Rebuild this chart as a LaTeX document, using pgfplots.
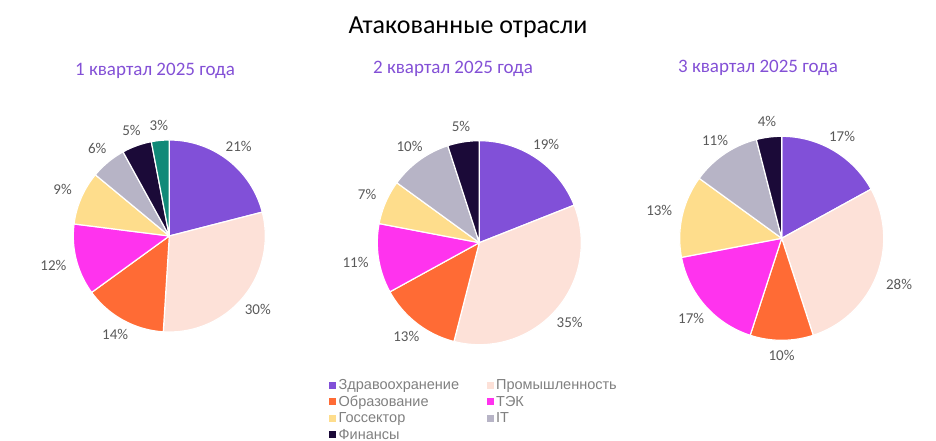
\documentclass[border=0pt]{standalone}
\usepackage{fontspec}
\setmainfont{Carlito}
\newfontfamily\legfont{Liberation Sans}
\usepackage{pgfplots}
\pgfplotsset{compat=1.18}

\definecolor{cHealth}{HTML}{8150D8}
\definecolor{cInd}{HTML}{FDE1D8}
\definecolor{cEdu}{HTML}{FF6B35}
\definecolor{cFuel}{HTML}{FF33EE}
\definecolor{cGov}{HTML}{FEDD8C}
\definecolor{cIT}{HTML}{B7B4C6}
\definecolor{cFin}{HTML}{1B0A38}
\definecolor{cOther}{HTML}{118A78}
\definecolor{cSub}{HTML}{8350D6}
\definecolor{cLab}{HTML}{595959}
\definecolor{cLeg}{HTML}{808080}

\newcommand\labfont{\fontsize{15}{18}\selectfont}

% pie: centre x, centre y, radius (axis units = px)
\newcommand\startpie[3]{\gdef\pcx{#1}\gdef\pcy{#2}\gdef\prad{#3}\gdef\pcum{0}}
% slice: percent, colour (clockwise from 12 o'clock)
\newcommand\slice[2]{%
  \pgfmathsetmacro\pa{90-3.6*(\pcum+#1)}%
  \pgfmathsetmacro\pb{90-3.6*\pcum}%
  \pgfmathsetmacro\pmid{90-3.6*(\pcum+#1/2)}%
  \pgfmathsetmacro\lx{\pcx+(\prad+9)*cos(\pmid)}%
  \pgfmathsetmacro\ly{\pcy+(\prad+9)*sin(\pmid)}%
  \pgfmathsetmacro\lanc{mod(\pmid+540,360)}%
  \edef\doslice{%
    \noexpand\addplot[forget plot, fill=#2, draw=white, line width=1.2pt,
      line join=round, domain=\pa:\pb, samples=61]
      ({\pcx+\prad*cos(x)}, {\pcy+\prad*sin(x)}) -- (axis cs:\pcx,\pcy) -- cycle;
    \noexpand\node[anchor=\lanc, text=cLab, font=\noexpand\labfont, inner sep=1pt]
      at (axis cs:\lx,\ly) {#1\noexpand\%};
  }%
  \doslice
  \pgfmathsetmacro\pnew{\pcum+#1}\global\let\pcum\pnew
}

\begin{document}
\begin{tikzpicture}
\begin{axis}[name=ax, hide axis, scale only axis, width=936pt, height=441pt,
  xmin=0, xmax=936, ymin=0, ymax=441, clip=false,
  legend style={at={(axis cs:329,64)}, anchor=north west, draw=none, fill=none,
    font=\legfont\fontsize{14.5}{16}\selectfont, text=cLeg, inner sep=0pt,
    row sep=0pt, nodes={text height=10.5pt, text depth=2pt, inner ysep=2pt, inner xsep=2.5pt},
    /tikz/every even column/.append style={column sep=25pt}},
  legend columns=2, legend cell align=left,
  legend image code/.code={\fill[#1, draw=none] (0pt,-3.5pt) rectangle (7pt,3.5pt);}]

\addlegendimage{fill=cHealth}\addlegendentry{Здравоохранение}
\addlegendimage{fill=cInd}\addlegendentry{Промышленность}
\addlegendimage{fill=cEdu}\addlegendentry{Образование}
\addlegendimage{fill=cFuel}\addlegendentry{ТЭК}
\addlegendimage{fill=cGov}\addlegendentry{Госсектор}
\addlegendimage{fill=cIT}\addlegendentry{IT}
\addlegendimage{fill=cFin}\addlegendentry{Финансы}

% 1 квартал
\startpie{169.3}{205}{96}
\slice{21}{cHealth}\slice{30}{cInd}\slice{14}{cEdu}\slice{12}{cFuel}
\slice{9}{cGov}\slice{6}{cIT}\slice{5}{cFin}\slice{3}{cOther}
% 2 квартал
\startpie{479.3}{198.3}{102}
\slice{19}{cHealth}\slice{35}{cInd}\slice{13}{cEdu}\slice{11}{cFuel}
\slice{7}{cGov}\slice{10}{cIT}\slice{5}{cFin}
% 3 квартал
\startpie{781.7}{202.7}{102}
\slice{17}{cHealth}\slice{28}{cInd}\slice{10}{cEdu}\slice{17}{cFuel}
\slice{13}{cGov}\slice{11}{cIT}\slice{4}{cFin}

\node[font=\fontsize{26}{30}\selectfont] at (axis cs:468,414) {Атакованные отрасли};
\node[text=cSub, font=\fontsize{19}{22}\selectfont] at (axis cs:155,370) {1 квартал 2025 года};
\node[text=cSub, font=\fontsize{19}{22}\selectfont] at (axis cs:453,372) {2 квартал 2025 года};
\node[text=cSub, font=\fontsize{19}{22}\selectfont] at (axis cs:758,373) {3 квартал 2025 года};
\end{axis}
\pgfresetboundingbox
\path (ax.south west) rectangle (ax.north east);
\end{tikzpicture}
\end{document}
